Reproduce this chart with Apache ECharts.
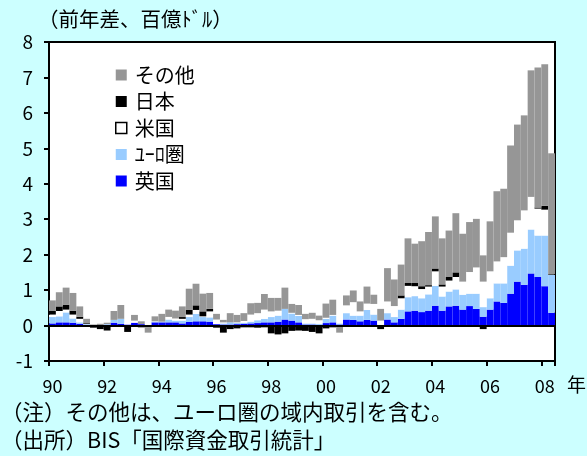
<!DOCTYPE html>
<html><head><meta charset="utf-8">
<script src="https://cdn.jsdelivr.net/npm/echarts@6/dist/echarts.min.js"></script>
<style>html,body{margin:0;padding:0;background:#ccffff;}#c{width:587px;height:456px;}</style>
</head><body><div id="c"></div>
<script>
// Quarterly categories 1990Q1 - 2008Q2
const years = ['90','91','92','93','94','95','96','97','98','99','00','01','02','03','04','05','06','07','08'];
const categories = [];
years.forEach(function(y){ ['Q1','Q2','Q3','Q4'].forEach(function(q){ categories.push(y + q); }); });
categories.length = 74;
const tickLabels = ['90','92','94','96','98','00','02','04','06','08'];

const uk = [0.06,0.09,0.09,0.08,0.05,0.02,0,0,0.02,0.08,0.05,0.03,0.08,0.04,0,0.09,0.09,0.09,0.09,0.06,0.10,0.12,0.12,0.11,0.04,0.03,0.03,0.04,0.05,0.06,0.07,0.09,0.09,0.11,0.17,0.14,0.09,0.03,0.03,0.02,0.07,0.09,0.03,0.17,0.16,0.12,0.16,0.14,0.02,0.17,0.09,0.19,0.40,0.42,0.38,0.42,0.56,0.42,0.54,0.56,0.45,0.55,0.47,0.25,0.45,0.68,0.64,0.90,1.24,1.15,1.47,1.37,1.11,0.36];
const euro = [0.18,0.17,0.28,0.12,0.04,0.02,0,0,0.02,0.08,0.14,0,0,0,-0.03,0.02,0.02,0.08,0.05,0.08,0.14,0.21,0.12,0.12,0,0.03,0.06,0.03,0.03,0.05,0.08,0.10,0.15,0.17,0.30,0.20,0.18,0.03,0.03,0.03,0.12,0.19,0.03,0.18,0.12,0.16,0.28,0.17,0,0.18,0.15,0.26,0.40,0.41,0.39,0.46,0.56,0.40,0.42,0.46,0.42,0.35,0.43,0.27,0.32,0.51,0.55,0.79,0.88,1.02,1.24,1.17,1.43,1.07];
const us = [0.07,0.15,0.08,0.11,0.10,0.01,0,0,0,0,0,0.05,0.06,0,0,0.01,0,0.08,0.06,0.05,0.07,0.11,0.02,0.17,0.13,0.03,0,0.02,0.05,0.20,0.20,0.26,0.16,0.14,0,0.02,0.03,0.12,0.13,0.10,0.03,0.02,0.02,0.22,0.38,0.12,0.18,0.30,0.12,0.33,0.31,0.32,0.32,0.28,0.26,0.22,0.41,0.28,0.31,0.35,0.37,0.61,0.74,0.72,0.76,0.62,0.74,0.93,0.85,1.08,0.92,0.76,0.73,0];
const japan = [0.10,0.13,0.14,0.11,0.06,0.02,-0.06,-0.10,-0.14,-0.04,-0.02,-0.18,-0.03,-0.05,-0.02,0,0,0.01,0,0.05,0.13,0.13,0.14,0.07,-0.06,-0.20,-0.10,-0.08,-0.05,-0.05,-0.06,-0.05,-0.22,-0.25,-0.22,-0.15,-0.14,-0.15,-0.18,-0.22,-0.08,-0.05,0,0,0,0,0,0,-0.10,0,0,0.08,0.08,0.09,0.08,0.04,0.08,0.06,0.10,0.13,0,0,0,-0.10,0,0,0,0,0,0,0,0.03,0.11,0.02];
const other = [0.30,0.40,0.48,0.50,0.29,0.12,0.03,0.05,0.04,0.25,0.39,0,0.16,0.08,-0.15,0.14,0.22,0.19,0.22,0.30,0.60,0.61,0.50,0.45,0.16,0.07,0.26,0.21,0.22,0.32,0.29,0.44,0.38,0.36,0.60,0.25,0.28,0.15,0.17,0.13,0.40,0.43,-0.20,0.28,0.33,0.28,0.48,0.26,0.33,0.94,0.75,0.87,1.26,1.11,1.27,1.50,1.47,1.30,1.31,1.67,1.35,1.41,1.37,0.74,1.41,1.98,1.93,2.46,2.70,2.68,3.57,3.95,3.99,3.41];

const FONT = '"Noto Sans CJK JP", sans-serif';
function bar(name, data, color, extra) {
  return Object.assign({
    name: name, type: 'bar', stack: 'all', data: data,
    barCategoryGap: '0%', itemStyle: { color: color, borderWidth: 0 },
    emphasis: { disabled: true }, animation: false
  }, extra || {});
}

const chart = echarts.init(document.getElementById('c'), null, { renderer: 'canvas' });
chart.setOption({
  backgroundColor: '#ccffff',
  animation: false,
  grid: { left: 49, top: 42, width: 506, height: 319, show: true, backgroundColor: '#ffffff', borderColor: '#000', borderWidth: 2 },
  legend: {
    orient: 'vertical', left: 110, top: 60, itemWidth: 11, itemHeight: 11, itemGap: 6.5,
    icon: 'rect', selectedMode: false,
    textStyle: { fontSize: 20, fontFamily: FONT, color: '#000', padding: [0, 0, 0, 3] },
    data: [
      { name: 'その他' },
      { name: '日本' },
      { name: '米国', itemStyle: { color: '#fff', borderColor: '#000', borderWidth: 1.5 } },
      { name: 'ﾕｰﾛ圏' },
      { name: '英国' }
    ]
  },
  xAxis: {
    type: 'category', data: categories, boundaryGap: true,
    axisLine: { onZero: false, lineStyle: { color: '#000', width: 2 } },
    axisTick: { show: true, interval: 7, length: 5, inside: false, lineStyle: { color: '#000', width: 2 } },
    axisLabel: {
      interval: 7, margin: 16, fontSize: 18, fontFamily: FONT, color: '#000',
      formatter: function (v, i) { return tickLabels[i / 8] || ''; }
    },
    splitLine: { show: false }
  },
  yAxis: {
    type: 'value', min: -1, max: 8, interval: 1,
    axisLine: { show: true, lineStyle: { color: '#000', width: 2 } },
    axisTick: { show: true, length: 5, lineStyle: { color: '#000', width: 2 } },
    axisLabel: { margin: 16, fontSize: 19, fontFamily: FONT, color: '#000' },
    splitLine: { show: false }
  },
  graphic: [
    { type: 'text', left: 38, top: 9, style: { text: '（前年差、百億ﾄﾞﾙ）', fontSize: 20.5, fontFamily: FONT, fill: '#000' } },
    { type: 'text', left: 567, top: 375, style: { text: '年', fontSize: 19, fontFamily: FONT, fill: '#000' } },
    { type: 'text', left: 1, top: 401, style: { text: '（注）その他は、ユーロ圏の域内取引を含む。', fontSize: 21.5, fontFamily: FONT, fill: '#000' } },
    { type: 'text', left: 1, top: 429, style: { text: '（出所）BIS「国際資金取引統計」', fontSize: 21.5, fontFamily: FONT, fill: '#000' } }
  ],
  series: [
    bar('英国', uk, '#0000ff'),
    bar('ﾕｰﾛ圏', euro, '#99ccff'),
    bar('米国', us, '#ffffff'),
    bar('日本', japan, '#000000'),
    bar('その他', other, '#969696', {
      markLine: { silent: true, symbol: 'none', label: { show: false },
        lineStyle: { color: '#000', width: 2, type: 'solid' }, data: [{ yAxis: 0 }] }
    })
  ]
});
</script></body></html>
